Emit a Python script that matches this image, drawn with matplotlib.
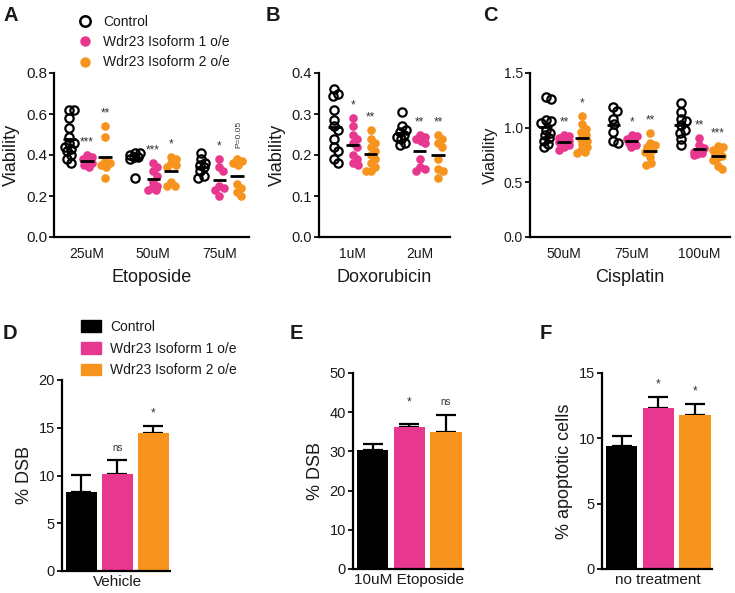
import numpy as np
import matplotlib
matplotlib.use("Agg")
import matplotlib.pyplot as plt
from matplotlib.lines import Line2D
from matplotlib.patches import Patch

plt.rcParams['font.family'] = ['Liberation Sans', 'DejaVu Sans']
plt.rcParams['text.color'] = '#1a1a1a'
plt.rcParams['axes.labelcolor'] = '#1a1a1a'
plt.rcParams['xtick.color'] = '#1a1a1a'
plt.rcParams['ytick.color'] = '#1a1a1a'

# ---------------- data ----------------
groups = ["Control", "Wdr23 Isoform 1 o/e", "Wdr23 Isoform 2 o/e"]
colors = ["black", "#E8378F", "#F7941E"]

# Panel A: Etoposide viability
eto_doses = ["25uM", "50uM", "75uM"]
eto_ctrl = [
    [0.62, 0.62, 0.58, 0.53, 0.49, 0.46, 0.46, 0.44, 0.43, 0.42, 0.40, 0.38, 0.36],
    [0.41, 0.41, 0.40, 0.39, 0.39, 0.38, 0.29],
    [0.41, 0.38, 0.36, 0.35, 0.34, 0.32, 0.30, 0.29],
]
eto_iso1 = [
    [0.40, 0.39, 0.38, 0.37, 0.36, 0.35, 0.34],
    [0.36, 0.34, 0.32, 0.30, 0.27, 0.25, 0.24, 0.23, 0.23],
    [0.38, 0.34, 0.32, 0.25, 0.24, 0.23, 0.20],
]
eto_iso2 = [
    [0.54, 0.49, 0.37, 0.36, 0.35, 0.34, 0.29],
    [0.39, 0.38, 0.36, 0.35, 0.34, 0.27, 0.25, 0.25],
    [0.38, 0.37, 0.36, 0.35, 0.26, 0.24, 0.22, 0.20],
]
eto_sig_iso1 = ["***", "***", "*"]
eto_sig_iso2 = ["**", "*", "P=0.05"]

# Panel B: Doxorubicin viability
dox_doses = ["1uM", "2uM"]
dox_ctrl = [
    [0.36, 0.35, 0.345, 0.31, 0.285, 0.27, 0.26, 0.24, 0.22, 0.21, 0.19, 0.18],
    [0.305, 0.27, 0.26, 0.255, 0.25, 0.245, 0.24, 0.23, 0.225],
]
dox_iso1 = [
    [0.29, 0.27, 0.25, 0.24, 0.23, 0.22, 0.20, 0.19, 0.18, 0.175],
    [0.25, 0.245, 0.24, 0.235, 0.23, 0.19, 0.17, 0.165, 0.16],
]
dox_iso2 = [
    [0.26, 0.24, 0.23, 0.22, 0.21, 0.20, 0.19, 0.18, 0.17, 0.16, 0.16],
    [0.25, 0.24, 0.23, 0.22, 0.19, 0.165, 0.16, 0.145],
]
dox_sig_iso1 = ["*", "**"]
dox_sig_iso2 = ["**", "**"]

# Panel C: Cisplatin viability
cis_doses = ["50uM", "75uM", "100uM"]
cis_ctrl = [
    [1.28, 1.26, 1.07, 1.06, 1.04, 0.98, 0.95, 0.93, 0.91, 0.88, 0.85, 0.82],
    [1.19, 1.15, 1.08, 1.03, 0.96, 0.88, 0.86],
    [1.23, 1.14, 1.08, 1.06, 1.02, 0.98, 0.95, 0.90, 0.84],
]
cis_iso1 = [
    [0.93, 0.92, 0.91, 0.90, 0.89, 0.88, 0.87, 0.86, 0.85, 0.84, 0.82, 0.80],
    [0.93, 0.92, 0.90, 0.88, 0.86, 0.84, 0.82],
    [0.91, 0.84, 0.81, 0.79, 0.78, 0.77, 0.76, 0.75],
]
cis_iso2 = [
    [1.11, 1.03, 0.99, 0.96, 0.93, 0.90, 0.88, 0.85, 0.82, 0.80, 0.78, 0.77],
    [0.95, 0.86, 0.84, 0.82, 0.80, 0.78, 0.73, 0.68, 0.66],
    [0.83, 0.82, 0.80, 0.78, 0.76, 0.74, 0.72, 0.70, 0.65, 0.62],
]
cis_sig_iso1 = ["**", "*", "**"]
cis_sig_iso2 = ["*", "**", "***"]

# Panel D: %DSB vehicle
dsb_veh_mean = [8.3, 10.2, 14.4]
dsb_veh_err = [1.8, 1.4, 0.8]
dsb_veh_sig = ["", "ns", "*"]

# Panel E: %DSB 10uM etoposide
dsb_eto_mean = [30.3, 36.3, 35.0]
dsb_eto_err = [1.6, 0.6, 4.3]
dsb_eto_sig = ["", "*", "ns"]

# Panel F: % apoptotic cells
apo_mean = [9.45, 12.3, 11.8]
apo_err = [0.7, 0.85, 0.8]
apo_sig = ["", "*", "*"]

# ---------------- figure ----------------
W, H = 735, 593
fig = plt.figure(figsize=(W / 100, H / 100), dpi=100)


def px_axes(left, right, top, bottom):
    return fig.add_axes([left / W, 1 - bottom / H, (right - left) / W, (bottom - top) / H])


def style_axes(ax, tick_fs):
    for s in ["top", "right"]:
        ax.spines[s].set_visible(False)
    for s in ["left", "bottom"]:
        ax.spines[s].set_linewidth(1.6)
        ax.spines[s].set_color('black')
    ax.tick_params(axis='y', length=3.5, width=1.4, pad=1.5, labelsize=tick_fs)
    ax.tick_params(axis='x', length=0, pad=7, labelsize=10)


def swarm(ax, xc, vals, diam, maxoff):
    pts = ax.transData.transform(np.column_stack([np.full(len(vals), xc), vals]))
    x0 = pts[0, 0]
    ys = pts[:, 1]
    order = np.argsort(-ys)
    placed = []
    offs = np.zeros(len(vals))
    cands = [0.0]
    k = 1
    while k * 0.5 <= maxoff:
        cands += [k * 0.5, -k * 0.5]
        k += 1
    for i in order:
        y = ys[i]
        best, best_d, best_alt = None, -1, 0.0
        for s in cands:
            d = min([np.hypot(s - px, y - py) for px, py in placed] + [1e9])
            if d >= diam:
                best = s
                break
            if d > best_d:
                best_d, best_alt = d, s
        if best is None:
            best = best_alt
        placed.append((best, y))
        offs[i] = best
    back = ax.transData.inverted().transform(np.column_stack([x0 + offs, ys]))
    return back[:, 0]


def scatter_panel(ax, doses, ctrl, iso1, iso2, sig1, sig2, ylim, yticks, yfmt, xlab, ylab,
                  tick_fs, ylab_fs, off=0.27):
    n = len(doses)
    ax.set_xlim(-0.5, n - 0.55)
    ax.set_ylim(*ylim)
    ax.set_yticks(yticks)
    ax.set_yticklabels([yfmt.format(t) for t in yticks])
    ax.set_xticks(range(n))
    ax.set_xticklabels(doses)
    style_axes(ax, tick_fs)
    ax.set_xlabel(xlab, fontsize=13, labelpad=6)
    ax.set_ylabel(ylab, fontsize=ylab_fs, labelpad=4)
    for gi, data in enumerate([ctrl, iso1, iso2]):
        for di in range(n):
            vals = np.array(data[di])
            xc = di + (gi - 1) * off
            xs = swarm(ax, xc, vals, 5.5, 5.0)
            if gi == 0:
                ax.plot(xs, vals, 'o', ms=6.0, mfc='none', mec='black', mew=1.6,
                        zorder=3, clip_on=False)
            else:
                ax.plot(xs, vals, 'o', ms=6.2, mfc=colors[gi], mec=colors[gi], mew=0,
                        zorder=3, clip_on=False)
            m = vals.mean()
            ax.hlines(m, xc - 0.1, xc + 0.1, color='black', lw=2.0, zorder=4)
            if gi > 0:
                lab = (sig1 if gi == 1 else sig2)[di]
                if lab.startswith("P"):
                    ax.annotate(lab, (xc, vals.max()), xytext=(1, 8), textcoords='offset points',
                                ha='center', va='bottom', rotation=90, fontsize=6, color='#333333')
                else:
                    ax.annotate(lab, (xc, vals.max()), xytext=(0, 9), textcoords='offset points',
                                ha='center', va='center', fontsize=8.5, color='#333333')


def bar_panel(ax, means, errs, sigs, cat, ylim, yticks, ylab, common_anchor=False):
    x = np.arange(3)
    ax.bar(x, means, width=0.86, color=colors, zorder=2)
    ax.errorbar(x, means, yerr=[np.zeros(3), errs], fmt='none', ecolor='black',
                elinewidth=1.6, capsize=7, capthick=1.6, zorder=1)
    ax.set_xlim(-0.54, 2.47)
    ax.set_ylim(*ylim)
    ax.set_yticks(yticks)
    ax.set_xticks([1])
    ax.set_xticklabels([cat])
    style_axes(ax, 10.5)
    ax.tick_params(axis='x', pad=3, labelsize=11)
    ax.set_ylabel(ylab, fontsize=13, labelpad=4)
    tops = np.array(means) + np.array(errs)
    for i, lab in enumerate(sigs):
        if not lab:
            continue
        yv = tops[1:].max() if common_anchor else tops[i]
        fs = 7 if lab == "ns" else 8.5
        ax.annotate(lab, (i, yv), xytext=(0, 9), textcoords='offset points',
                    ha='center', va='center', fontsize=fs, color='#333333')


# Panel A
axA = px_axes(54, 249, 73, 237)
scatter_panel(axA, eto_doses, eto_ctrl, eto_iso1, eto_iso2, eto_sig_iso1, eto_sig_iso2,
              (0, 0.8), [0.0, 0.2, 0.4, 0.6, 0.8], "{:.1f}", "Etoposide", "Viability", 11, 13)

# Panel B
axB = px_axes(319, 450, 73, 237)
scatter_panel(axB, dox_doses, dox_ctrl, dox_iso1, dox_iso2, dox_sig_iso1, dox_sig_iso2,
              (0, 0.4), [0.0, 0.1, 0.2, 0.3, 0.4], "{:.1f}", "Doxorubicin", "Viability", 10.5, 13)

# Panel C
axC = px_axes(530, 730, 73, 237)
scatter_panel(axC, cis_doses, cis_ctrl, cis_iso1, cis_iso2, cis_sig_iso1, cis_sig_iso2,
              (0, 1.5), [0.0, 0.5, 1.0, 1.5], "{:.1f}", "Cisplatin", "Viability", 10, 12)

# Legend for scatter panels
handles = [
    Line2D([], [], ls='none', marker='o', ms=7.5, mfc='none', mec='black', mew=1.8),
    Line2D([], [], ls='none', marker='o', ms=7.5, mfc=colors[1], mec=colors[1], mew=0),
    Line2D([], [], ls='none', marker='o', ms=7.5, mfc=colors[2], mec=colors[2], mew=0),
]
fig.legend(handles, groups, loc='upper left', bbox_to_anchor=(78 / W, 1 - 15 / H),
           frameon=False, fontsize=10, handlelength=1.0, handletextpad=0.8,
           labelspacing=0.45, borderpad=0, borderaxespad=0)

# Panel D
axD = px_axes(62, 170, 380, 571)
bar_panel(axD, dsb_veh_mean, dsb_veh_err, dsb_veh_sig, "Vehicle", (0, 20), [0, 5, 10, 15, 20], "% DSB")
bar_handles = [Patch(facecolor=c, edgecolor=c) for c in colors]
fig.legend(bar_handles, groups, loc='upper left', bbox_to_anchor=(81 / W, 1 - 320 / H),
           frameon=False, fontsize=10, handlelength=1.45, handleheight=0.95, handletextpad=0.65,
           labelspacing=0.55, borderpad=0, borderaxespad=0)

# Panel E
axE = px_axes(353, 463, 373, 569)
bar_panel(axE, dsb_eto_mean, dsb_eto_err, dsb_eto_sig, "10uM Etoposide", (0, 50),
          [0, 10, 20, 30, 40, 50], "% DSB", common_anchor=True)

# Panel F
axF = px_axes(602, 712, 373, 569)
bar_panel(axF, apo_mean, apo_err, apo_sig, "no treatment", (0, 15), [0, 5, 10, 15],
          "% apoptotic cells")

# Panel letters
for lab, xp, yp in [("A", 3, 21), ("B", 266, 21), ("C", 483, 21),
                    ("D", 3, 339), ("E", 290, 339), ("F", 540, 339)]:
    fig.text(xp / W, 1 - yp / H, lab, fontsize=14.5, fontweight='bold', ha='left',
             va='baseline', color='#1a1a1a')

fig.savefig("out.png", dpi=100)
